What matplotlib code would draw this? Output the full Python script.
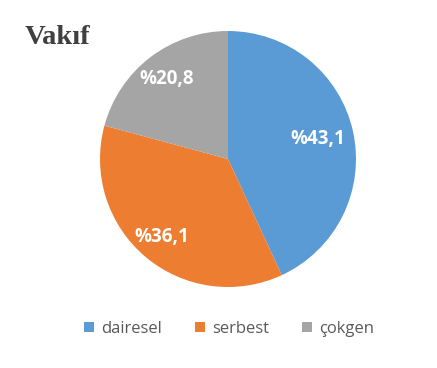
import numpy as np
import matplotlib.pyplot as plt
from matplotlib.patches import Patch

categories = ['dairesel', 'serbest', 'çokgen']
values = [43.1, 36.1, 20.8]
colors = ['#5B9BD5', '#ED7D31', '#A5A5A5']
label_radius = [0.72, 0.80, 0.79]

fig = plt.figure(figsize=(4.37, 3.68), dpi=100)
ax = fig.add_axes([100 / 437, 81 / 368, 256 / 437, 256 / 368])

wedges, _ = ax.pie(values, colors=colors, startangle=90, counterclock=False,
                   radius=1, wedgeprops=dict(linewidth=0))
ax.set_xlim(-1, 1)
ax.set_ylim(-1, 1)
ax.set_aspect('equal')

# percentage labels inside each wedge, Turkish decimal comma
for w, v, r in zip(wedges, values, label_radius):
    ang = np.deg2rad((w.theta1 + w.theta2) / 2)
    ax.text(r * np.cos(ang), r * np.sin(ang), '%' + f'{v:.1f}'.replace('.', ','),
            ha='center', va='center', color='white', fontsize=13.5,
            fontweight='bold', family='Open Sans')

fig.text(25 / 437, 1 - 38 / 368, 'Vakıf', fontsize=20.5, fontweight='bold',
         family='Liberation Serif', color='#404040', va='center', ha='left')

handles = [Patch(facecolor=c, edgecolor='none') for c in colors]
fig.legend(handles, categories, loc='center', bbox_to_anchor=(229 / 437, 1 - 329 / 368),
           ncol=3, frameon=False, handlelength=0.6, handleheight=0.6,
           handletextpad=0.4, columnspacing=2.0,
           prop=dict(family='Open Sans', size=12), labelcolor='#595959')

fig.savefig('out.png', dpi=100, facecolor='white')
